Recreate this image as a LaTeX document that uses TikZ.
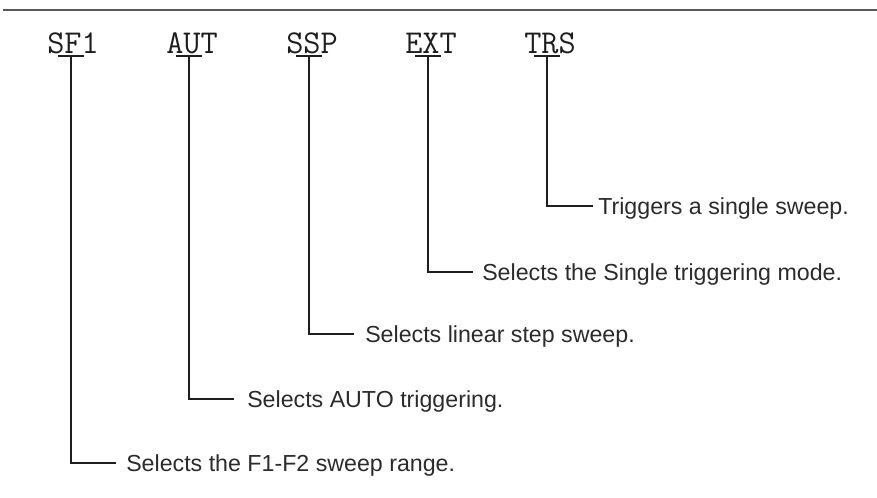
\documentclass[tikz,border=0pt]{standalone}
\usepackage{fontspec}
\setmainfont{Liberation Sans}
\definecolor{txt}{HTML}{2B2B2B}
\definecolor{ln}{HTML}{1E1E1E}
\begin{document}
\begin{tikzpicture}[x=0.75pt,y=-0.75pt,
  cmd/.style={font=\ttfamily\fontsize{25}{28}\selectfont, anchor=base, inner sep=0pt, text=ln},
  desc/.style={font=\fontsize{17.4}{20}\selectfont, anchor=base west, inner sep=0pt, text=txt},
  bar/.style={line width=1.6pt, draw=ln},
  lead/.style={line width=0.85pt, draw=ln}]
\useasboundingbox (0,0) rectangle (877,497);
\draw[line width=1.4pt, draw=black!65] (3,10) -- (877,10);
% command labels
\node[cmd] (sf1) at (73,53) {SF1};
\node[cmd] (aut) at (192,53) {AUT};
\node[cmd] (ssp) at (312,53) {SSP};
\node[cmd] (ext) at (431,53) {EXT};
\node[cmd] (trs) at (550,53) {TRS};
% underbars
\foreach \n/\x in {sf1/71,aut/189,ssp/309,ext/428,trs/547}{
  \coordinate (\n b) at (\x,56);
  \draw[bar] ([xshift=-9.5pt]\n b) -- ([xshift=9.5pt]\n b);
}
% leader ends
\coordinate (e1) at (116,463);
\coordinate (e2) at (234,399);
\coordinate (e3) at (354,334);
\coordinate (e4) at (473,272);
\coordinate (e5) at (593,206);
% descriptions
\node[desc] (d1) at (126,471.5) {Selects the F1-F2 sweep range.};
\node[desc] (d2) at (247,407.5) {Selects AUTO triggering.};
\node[desc] (d3) at (365,342.5) {Selects linear step sweep.};
\node[desc] (d4) at (482,280.5) {Selects the Single triggering mode.};
\node[desc] (d5) at (598,214.5) {Triggers a single sweep.};
% leaders
\draw[lead] (sf1b) |- (e1);
\draw[lead] (autb) |- (e2);
\draw[lead] (sspb) |- (e3);
\draw[lead] (extb) |- (e4);
\draw[lead] (trsb) |- (e5);
\end{tikzpicture}
\end{document}
